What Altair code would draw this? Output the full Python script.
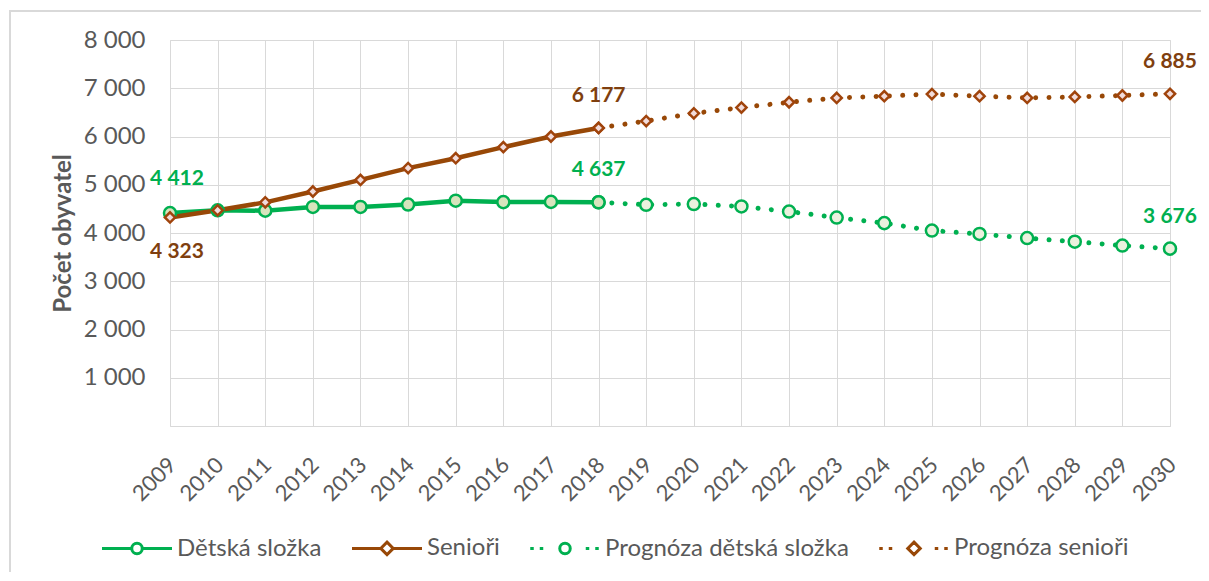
import altair as alt
import pandas as pd

# ---- data ----
years_actual = [2009, 2010, 2011, 2012, 2013, 2014, 2015, 2016, 2017, 2018]
detska = [4412, 4470, 4462, 4540, 4540, 4590, 4670, 4640, 4645, 4637]
seniori = [4323, 4470, 4635, 4860, 5100, 5345, 5550, 5780, 6000, 6177]

years_prog = [2018, 2019, 2020, 2021, 2022, 2023, 2024, 2025, 2026, 2027, 2028, 2029, 2030]
prog_detska = [4637, 4585, 4600, 4550, 4445, 4320, 4205, 4050, 3980, 3895, 3820, 3740, 3676]
prog_seniori = [6177, 6320, 6480, 6600, 6710, 6800, 6835, 6880, 6835, 6800, 6820, 6850, 6885]

series_names = ["Dětská složka", "Senioři", "Prognóza dětská složka", "Prognóza senioři"]
all_years = list(range(2009, 2031))
y_ticks = [0, 1000, 2000, 3000, 4000, 5000, 6000, 7000, 8000]

# labelled points: (year, value, series, position)
label_points = [
    (2009, 4412, "Dětská složka", "above"),
    (2009, 4323, "Senioři", "below"),
    (2018, 6177, "Senioři", "above"),
    (2018, 4637, "Dětská složka", "above"),
    (2030, 6885, "Prognóza senioři", "above"),
    (2030, 3676, "Prognóza dětská složka", "above"),
]

GREEN = "#00B050"
BROWN = "#984807"
BROWN_MARK = "#A0440C"
BROWN_TEXT = "#7F3F0F"
GREEN_FILL = "#D7E4BD"
GREEN_FILL_P = "#EBF1DE"
PINK_FILL = "#F2DCDB"
GRAY = "#595959"
GRID = "#D9D9D9"
FONT = "Lato"

df_d = pd.DataFrame({"year": years_actual, "value": detska})
df_s = pd.DataFrame({"year": years_actual, "value": seniori})
df_pd = pd.DataFrame({"year": years_prog, "value": prog_detska})
df_ps = pd.DataFrame({"year": years_prog, "value": prog_seniori})

df_all = pd.concat([
    df_d.assign(series=series_names[0]),
    df_s.assign(series=series_names[1]),
    df_pd.assign(series=series_names[2]),
    df_ps.assign(series=series_names[3]),
])

df_lab = pd.DataFrame(label_points, columns=["year", "value", "series", "pos"])
df_lab["text"] = df_lab["value"].map(lambda v: f"{v:,}".replace(",", " "))

x_enc = alt.X("year:Q",
              scale=alt.Scale(domain=[2009, 2030], nice=False, zero=False),
              axis=alt.Axis(values=all_years, format="d", labelAngle=-45,
                            labelFontSize=22, labelColor=GRAY, labelFont=FONT,
                            labelPadding=28, labelOffset=-5, labelOverlap=False,
                            labelBound=False,
                            grid=True, gridColor=GRID,
                            domain=False, ticks=False, title=None))
y_enc = alt.Y("value:Q",
              scale=alt.Scale(domain=[0, 8000], nice=False),
              axis=alt.Axis(values=y_ticks,
                            labelExpr="datum.value == 0 ? '' : replace(format(datum.value, ','), ',', ' ')",
                            labelFontSize=24, labelColor=GRAY, labelFont=FONT,
                            labelPadding=25, grid=True, gridColor=GRID,
                            domain=False, ticks=False,
                            title="Počet obyvatel", titleFontSize=24,
                            titleFont=FONT, titleFontWeight="bold",
                            titleColor=GRAY, titlePadding=8))

dotted = dict(strokeWidth=5, strokeCap="round", strokeDash=[0.01, 13.3])
line_pd = alt.Chart(df_pd).mark_line(color=GREEN, **dotted).encode(x=x_enc, y=y_enc)
line_ps = alt.Chart(df_ps).mark_line(color=BROWN, **dotted).encode(x=x_enc, y=y_enc)
line_d = alt.Chart(df_d).mark_line(color=GREEN, strokeWidth=4.5).encode(x=x_enc, y=y_enc)
line_s = alt.Chart(df_s).mark_line(color=BROWN, strokeWidth=4.5).encode(x=x_enc, y=y_enc)

pt_pd = alt.Chart(df_pd).mark_point(shape="circle", size=145, filled=True, fill=GREEN_FILL_P,
                                    stroke=GREEN, strokeWidth=2.5, opacity=1).encode(x=x_enc, y=y_enc)
pt_ps = alt.Chart(df_ps).mark_point(shape="diamond", size=105, filled=True, fill=PINK_FILL,
                                    stroke=BROWN_MARK, strokeWidth=2.5, opacity=1).encode(x=x_enc, y=y_enc)
pt_d = alt.Chart(df_d).mark_point(shape="circle", size=145, filled=True, fill=GREEN_FILL,
                                  stroke=GREEN, strokeWidth=2.5, opacity=1).encode(x=x_enc, y=y_enc)
pt_s = alt.Chart(df_s).mark_point(shape="diamond", size=105, filled=True, fill=PINK_FILL,
                                  stroke=BROWN_MARK, strokeWidth=2.5, opacity=1).encode(x=x_enc, y=y_enc)

def seg(cx, half=0.35):
    return f"M{cx - half},0L{cx + half},0"

circle_p = "M1.05,0A1.05,1.05,0,1,1,-1.05,0A1.05,1.05,0,1,1,1.05,0Z"
diamond_p = "M0,-1.25L1.25,0L0,1.25L-1.25,0Z"
sym_d = "M-7,0L-1.05,0M1.05,0L7,0" + circle_p
sym_s = "M-7,0L-1.25,0M1.25,0L7,0" + diamond_p
dots = seg(-6.6) + seg(-4.7) + seg(4.5) + seg(6.4)
sym_pd = dots + circle_p
sym_ps = dots + diamond_p

legend_layer = alt.Chart(df_all).mark_point(opacity=0, size=100, strokeWidth=3, filled=False).encode(
    x=x_enc, y=y_enc,
    stroke=alt.Stroke("series:N",
                      scale=alt.Scale(domain=series_names, range=[GREEN, BROWN, GREEN, BROWN]),
                      legend=alt.Legend(title=None, orient="none", legendX=-70, legendY=496,
                                        direction="horizontal", columns=4,
                                        symbolSize=100, symbolStrokeWidth=3,
                                        symbolOffset=25, labelOffset=28,
                                        columnPadding=24, padding=0,
                                        labelFontSize=24, labelFont=FONT,
                                        labelColor=GRAY, labelLimit=400)),
    fill=alt.Fill("series:N",
                  scale=alt.Scale(domain=series_names,
                                  range=[GREEN_FILL, PINK_FILL, GREEN_FILL_P, PINK_FILL]),
                  legend=alt.Legend(title=None)),
    shape=alt.Shape("series:N",
                    scale=alt.Scale(domain=series_names, range=[sym_d, sym_s, sym_pd, sym_ps]),
                    legend=alt.Legend(title=None)),
)

txt_color = alt.Color("series:N",
                      scale=alt.Scale(domain=series_names,
                                      range=[GREEN, BROWN_TEXT, GREEN, BROWN_TEXT]),
                      legend=None)

lab_start_above = alt.Chart(df_lab).transform_filter(
    "datum.pos == 'above' && datum.year == 2009"
).mark_text(fontSize=21, fontWeight="bold", font=FONT, dy=-34, dx=7, baseline="middle").encode(
    x=x_enc, y=y_enc, text="text:N", color=txt_color)
lab_start_below = alt.Chart(df_lab).transform_filter(
    "datum.pos == 'below'"
).mark_text(fontSize=21, fontWeight="bold", font=FONT, dy=35, dx=7, baseline="middle").encode(
    x=x_enc, y=y_enc, text="text:N", color=txt_color)
lab_above = alt.Chart(df_lab).transform_filter(
    "datum.pos == 'above' && datum.year != 2009"
).mark_text(fontSize=21, fontWeight="bold", font=FONT, dy=-32, baseline="middle").encode(
    x=x_enc, y=y_enc, text="text:N", color=txt_color)

frame = alt.Chart(df_lab).mark_rect(fill=None, stroke=GRID, strokeWidth=2).encode(
    x=alt.value(-160), x2=alt.value(1060), y=alt.value(-29), y2=alt.value(600))

chart = alt.layer(
    frame, line_pd, line_ps, line_d, line_s, pt_pd, pt_ps, pt_d, pt_s,
    legend_layer, lab_start_above, lab_start_below, lab_above
).properties(
    width=1000, height=386,
    autosize=alt.AutoSizeParams(type="none"),
    padding={"left": 162, "top": 32, "right": 31, "bottom": 146},
).configure_view(stroke=None).configure(font=FONT, background="white")

chart.save("out.html", embed_options={"renderer": "svg", "actions": False})
